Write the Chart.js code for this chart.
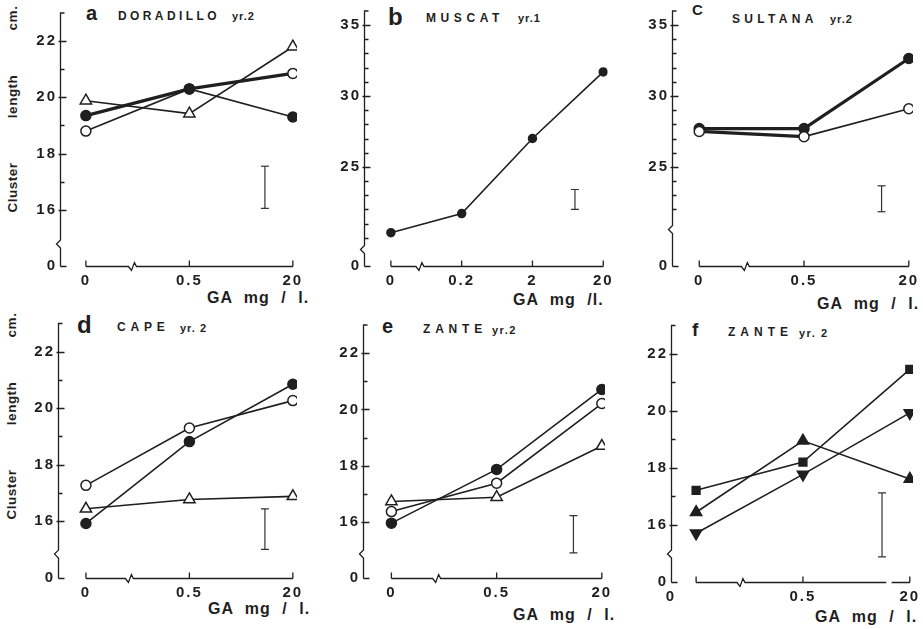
<!DOCTYPE html>
<html>
<head>
<meta charset="utf-8">
<script src="https://cdn.jsdelivr.net/npm/chart.js@4.4.1/dist/chart.umd.min.js"></script>
<style>
  body { margin: 0; background: #fff; width: 923px; height: 629px; position: relative; overflow: hidden;
         font-family: "Liberation Sans", Arial, sans-serif; }
  canvas { position: absolute; }
  .t { position: absolute; font-weight: bold; color: #1f1f1f; white-space: nowrap; line-height: 1; }
  .yt { position: absolute; width: 220px; height: 16px; text-align: center; font-weight: bold; color: #1f1f1f;
        font-size: 13.5px; line-height: 16px; letter-spacing: 0.5px; word-spacing: 40px; transform: rotate(-90deg); white-space: nowrap; }
  .xt { font-size: 16px; letter-spacing: 1px; word-spacing: 6px; }
</style>
</head>
<body>

<!-- panel titles -->
<div class="t" style="left:86px;top:3px;font-size:20px">a</div>
<div class="t" style="left:118px;top:10px;font-size:12px;letter-spacing:3.4px">DORADILLO</div>
<div class="t" style="left:232px;top:11px;font-size:11px;letter-spacing:1px">yr.2</div>

<div class="t" style="left:388px;top:5px;font-size:24px">b</div>
<div class="t" style="left:426px;top:12px;font-size:12px;letter-spacing:4.6px">MUSCAT</div>
<div class="t" style="left:518px;top:13px;font-size:11px;letter-spacing:1px">yr.1</div>

<div class="t" style="left:692px;top:2px;font-size:15px">C</div>
<div class="t" style="left:732px;top:13px;font-size:12px;letter-spacing:4.3px">SULTANA</div>
<div class="t" style="left:830px;top:14px;font-size:11px;letter-spacing:1px">yr.2</div>

<div class="t" style="left:77px;top:313px;font-size:24px">d</div>
<div class="t" style="left:117px;top:321px;font-size:12px;letter-spacing:4.8px">CAPE</div>
<div class="t" style="left:180px;top:323px;font-size:11px;letter-spacing:1px">yr. 2</div>

<div class="t" style="left:382px;top:316px;font-size:20px">e</div>
<div class="t" style="left:423px;top:323px;font-size:12px;letter-spacing:4.8px">ZANTE</div>
<div class="t" style="left:492px;top:325px;font-size:11px;letter-spacing:1.5px">yr.2</div>

<div class="t" style="left:692px;top:320px;font-size:19px">f</div>
<div class="t" style="left:728px;top:326px;font-size:12px;letter-spacing:5px">ZANTE</div>
<div class="t" style="left:799px;top:328px;font-size:11px;letter-spacing:1.5px">yr. 2</div>

<!-- axis titles -->
<div class="yt" style="left:-97px;top:101px">Cluster length cm.</div>
<div class="yt" style="left:-98px;top:408px">Cluster length cm.</div>

<div class="t xt" style="left:207px;top:290px">GA mg / l.</div>
<div class="t xt" style="left:513px;top:292px">GA mg /l.</div>
<div class="t xt" style="left:817px;top:296px">GA mg / l.</div>
<div class="t xt" style="left:208px;top:601px">GA mg / l.</div>
<div class="t xt" style="left:513px;top:607px">GA mg / l.</div>
<div class="t xt" style="left:815px;top:609px">GA mg / l.</div>

<script>
'use strict';

// GA concentrations (x categories)
const gaLevels3 = ['0', '0.5', '20'];
const gaLevels4 = ['0', '0.2', '2', '20'];

// a  Doradillo yr.2
const doradilloThick = [19.35, 20.3, 20.85];
const doradilloThin = [18.8, 20.3, 19.3];
const doradilloTri = [19.88, 19.42, 21.8];
// b  Muscat yr.1
const muscat = [20.35, 21.7, 27.0, 31.7];
// c  Sultana yr.2
const sultanaFilled = [27.7, 27.7, 32.65];
const sultanaOpen = [27.5, 27.13, 29.1];
// d  Cape yr.2
const capeFilled = [15.92, 18.82, 20.85];
const capeOpen = [17.27, 19.3, 20.27];
const capeTri = [16.44, 16.77, 16.88];
// e  Zante yr.2
const zanteFilled = [15.96, 17.87, 20.71];
const zanteOpen = [16.37, 17.38, 20.21];
const zanteTri = [16.73, 16.88, 18.7];
// f  Zante yr.2
const zanteSquare = [17.21, 18.2, 21.46];
const zanteUp = [16.44, 18.95, 17.61];
const zanteDown = [15.7, 17.77, 19.93];

// LSD bars [low, high]
const lsdA = [16.05, 17.55];
const lsdB = [22.0, 23.4];
const lsdC = [21.83, 23.66];
const lsdD = [15.0, 16.44];
const lsdE = [14.9, 16.23];
const lsdF = [14.87, 17.12];

// y tick labels (the bottom of each broken axis reads 0)
const yLabelsSmall = [16, 18, 20, 22];
const yMinorSmall = [16, 17, 18, 19, 20, 21, 22];
const yLabelsBig = [25, 30, 35];

const INK = '#1f1f1f';
const FONT = { family: '"Liberation Sans", Arial, sans-serif', size: 15, weight: 'bold' };

const range = (a, b) => { const r = []; for (let v = a; v <= b; v++) r.push(v); return r; };

const toPoints = (values) => values.map((v, i) => ({ x: i, y: v }));

const series = function (values, extra) {
  return Object.assign({
    data: toPoints(values),
    showLine: true,
    borderColor: INK,
    borderWidth: 1.6,
    pointStyle: 'circle',
    pointRadius: 5,
    pointBorderColor: INK,
    pointBorderWidth: 1.5,
    pointBackgroundColor: INK
  }, extra || {});
};

const lsdBar = function (lohi, at) {
  return {
    data: [{ x: at, y: lohi[0] }, { x: at, y: lohi[1] }],
    showLine: true,
    borderColor: '#333',
    borderWidth: 1.2,
    pointStyle: 'line',
    pointRadius: 4,
    pointBorderColor: '#333',
    pointBorderWidth: 1.2
  };
};

// axis lines, ticks and break marks
const brokenAxes = {
  id: 'brokenAxes',
  beforeLayout(chart) { chart.ctx.letterSpacing = '2px'; },
  beforeDraw(chart) { chart.ctx.letterSpacing = '2px'; },
  beforeDatasetsDraw(chart, args, opts) {
    const ctx = chart.ctx;
    const x = chart.scales.x, y = chart.scales.y;
    ctx.save();
    ctx.strokeStyle = INK;
    ctx.lineWidth = 1.3;
    const ax = Math.round(x.left) + 0.5;
    const y0 = Math.round(y.getPixelForValue(y.min)) + 0.5;
    const yb = y.getPixelForValue(opts.breakY);

    ctx.beginPath();
    ctx.moveTo(ax + 4, y.top);
    ctx.lineTo(ax, y.top);
    ctx.lineTo(ax, yb - 5);
    ctx.lineTo(ax - 4, yb - 1);
    ctx.lineTo(ax, yb + 3);
    ctx.lineTo(ax, y0);
    y.ticks.forEach(t => {
      if (t.value === y.min) return;
      const py = Math.round(y.getPixelForValue(t.value)) + 0.5;
      const major = t.label !== '';
      ctx.moveTo(ax - (major ? 2 : 0), py);
      ctx.lineTo(ax + (major ? 6 : 4), py);
    });
    ctx.moveTo(ax, y0);
    ctx.lineTo(ax + 6, y0);
    ctx.stroke();

    const px = opts.at.map(v => x.getPixelForValue(v));
    const bx = x.getPixelForValue(opts.breakX);
    ctx.beginPath();
    ctx.moveTo(px[0], y0);
    ctx.lineTo(bx - 4, y0);
    ctx.lineTo(bx - 1, y0 + 4);
    ctx.lineTo(bx + 2, y0 - 4);
    ctx.lineTo(bx + 4, y0);
    ctx.lineTo(px[px.length - 1], y0);
    px.forEach(v => { ctx.moveTo(v, y0); ctx.lineTo(v, y0 - 6); });
    ctx.stroke();

    if (opts.gap) {
      const g1 = x.getPixelForValue(opts.gap[0]), g2 = x.getPixelForValue(opts.gap[1]);
      ctx.fillStyle = '#fff';
      ctx.fillRect(g1, y0 - 2, g2 - g1, 4);
    }
    ctx.restore();
  }
};
Chart.register(brokenAxes);

const panels = [
  {
    canvas: { l: 0, t: 0, w: 305, h: 300 }, area: { l: 60, t: 13, r: 303, b: 266 },
    x: [-0.25, 2.04], y: [14, 23], labels: gaLevels3, labelAt: [0, 1, 2],
    yTicks: yMinorSmall, yLabels: yLabelsSmall, breakX: 0.45, breakY: 14.75,
    datasets: [
      series(doradilloTri, { pointStyle: 'triangle', pointRadius: 6.5, pointBackgroundColor: '#fff' }),
      series(doradilloThin, { pointBackgroundColor: ['#fff', INK, INK] }),
      series(doradilloThick, { borderWidth: 3.2, pointBackgroundColor: [INK, INK, '#fff'] }),
      lsdBar(lsdA, 1.73)
    ]
  },
  {
    canvas: { l: 305, t: 0, w: 308, h: 300 }, area: { l: 364, t: 11, r: 609, b: 266 },
    x: [-0.38, 3.06], y: [18, 36], labels: gaLevels4, labelAt: [0, 1, 2, 3],
    yTicks: range(20, 35), yLabels: yLabelsBig, breakX: 0.41, breakY: 19.1,
    datasets: [
      series(muscat, { pointRadius: 4 }),
      lsdBar(lsdB, 2.6)
    ]
  },
  {
    canvas: { l: 613, t: 0, w: 310, h: 300 }, area: { l: 672, t: 11, r: 913, b: 266 },
    x: [-0.26, 2.04], y: [18, 36], labels: gaLevels3, labelAt: [0, 1, 2],
    yTicks: range(22, 35), yLabels: yLabelsBig, breakX: 0.44, breakY: 20.5,
    datasets: [
      series(sultanaOpen, { pointBackgroundColor: '#fff',
        segment: { borderWidth: c => c.p0DataIndex === 0 ? 3.2 : 1.8 } }),
      series(sultanaFilled, { borderWidth: 3.2 }),
      lsdBar(lsdC, 1.74)
    ]
  },
  {
    canvas: { l: 0, t: 300, w: 305, h: 329 }, area: { l: 58, t: 323.5, r: 300, b: 577.7 },
    x: [-0.27, 2.04], y: [14, 23], labels: gaLevels3, labelAt: [0, 1, 2],
    yTicks: yMinorSmall, yLabels: yLabelsSmall, breakX: 0.42, breakY: 14.8,
    datasets: [
      series(capeTri, { pointStyle: 'triangle', pointRadius: 6.5, pointBackgroundColor: '#fff' }),
      series(capeOpen, { pointBackgroundColor: '#fff' }),
      series(capeFilled),
      lsdBar(lsdD, 1.73)
    ]
  },
  {
    canvas: { l: 305, t: 300, w: 308, h: 329 }, area: { l: 363, t: 325, r: 607, b: 578.3 },
    x: [-0.27, 2.03], y: [14, 23], labels: gaLevels3, labelAt: [0, 1, 2],
    yTicks: yMinorSmall, yLabels: yLabelsSmall, breakX: 0.43, breakY: 14.83,
    datasets: [
      series(zanteTri, { pointStyle: 'triangle', pointRadius: 6.5, pointBackgroundColor: '#fff' }),
      series(zanteOpen, { pointBackgroundColor: '#fff' }),
      series(zanteFilled),
      lsdBar(lsdE, 1.73)
    ]
  },
  {
    canvas: { l: 613, t: 300, w: 310, h: 329 }, area: { l: 671, t: 325.5, r: 913, b: 581.7 },
    x: [-0.235, 2.03], y: [14, 23], labels: gaLevels3, labelAt: [-0.235, 1, 2],
    yTicks: yMinorSmall, yLabels: yLabelsSmall, breakX: 0.42, breakY: 14.94, gap: [1.78, 1.83],
    datasets: [
      series(zanteSquare, { pointStyle: 'rect', pointRadius: 5.5 }),
      series(zanteUp, { pointStyle: 'triangle', pointRadius: 6.5 }),
      series(zanteDown, { pointStyle: 'triangle', pointRadius: 6.5, pointRotation: 180 }),
      lsdBar(lsdF, 1.74)
    ]
  }
];

panels.forEach(function (p) {
  const cv = document.createElement('canvas');
  cv.width = p.canvas.w;
  cv.height = p.canvas.h;
  cv.style.left = p.canvas.l + 'px';
  cv.style.top = p.canvas.t + 'px';
  document.body.appendChild(cv);

  new Chart(cv.getContext('2d'), {
    type: 'scatter',
    data: { datasets: p.datasets },
    options: {
      responsive: false,
      animation: false,
      events: [],
      layout: {
        padding: { left: 0, bottom: 0, top: p.area.t - p.canvas.t, right: p.canvas.l + p.canvas.w - p.area.r }
      },
      plugins: {
        legend: { display: false },
        tooltip: { enabled: false },
        brokenAxes: { breakX: p.breakX, breakY: p.breakY, at: p.labels.map((_, i) => i), gap: p.gap }
      },
      scales: {
        x: {
          type: 'linear', min: p.x[0], max: p.x[1],
          grid: { display: false, drawTicks: false },
          border: { display: false },
          afterBuildTicks: s => { s.ticks = p.labelAt.map(v => ({ value: v })); },
          afterFit: s => {
            s.height = p.canvas.t + p.canvas.h - p.area.b;
            s.paddingLeft = 0;
            s.paddingRight = 0;
          },
          ticks: {
            callback: (v, i) => p.labels[i],
            font: FONT, color: INK, padding: 6, maxRotation: 0, autoSkip: false
          }
        },
        y: {
          type: 'linear', min: p.y[0], max: p.y[1],
          grid: { display: false, drawTicks: false },
          border: { display: false },
          afterBuildTicks: s => { s.ticks = [p.y[0]].concat(p.yTicks).map(v => ({ value: v })); },
          afterFit: s => {
            s.width = p.area.l - p.canvas.l;
            s.paddingTop = 0;
            s.paddingBottom = 0;
          },
          ticks: {
            callback: v => v === p.y[0] ? '0' : (p.yLabels.includes(v) ? String(v) : ''),
            font: FONT, color: INK, padding: 3, autoSkip: false
          }
        }
      }
    }
  });
});
</script>
</body>
</html>
